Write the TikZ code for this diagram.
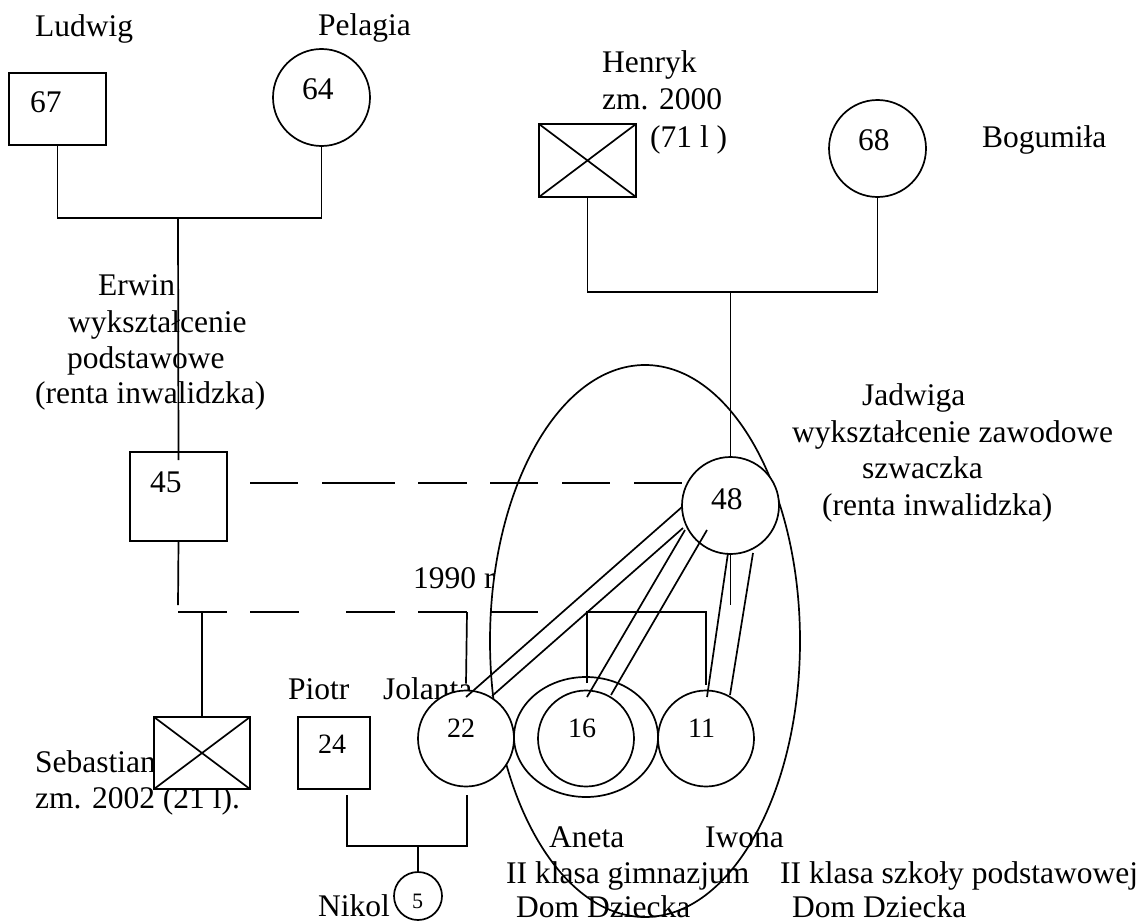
\documentclass[tikz,border=0pt]{standalone}
\usepackage{fontspec}
\setmainfont{Liberation Serif}
\usetikzlibrary{calc,shapes.geometric}
\begin{document}
\begin{tikzpicture}[x=1pt,y=-1pt,
  conn/.style={line width=1.7pt},
  txt/.style={anchor=base west, inner sep=0pt, font=\fontsize{31.5}{36}\selectfont},
  numtxt/.style={anchor=base west, inner sep=0pt, font=\fontsize{28}{32}\selectfont},
  smalltxt/.style={anchor=base west, inner sep=0pt, font=\fontsize{22}{26}\selectfont},
  malebox/.style={draw, line width=1.7pt, fill=white, rectangle, inner sep=0pt, outer sep=0pt},
  femcirc/.style={draw, line width=1.7pt, fill=white, circle, inner sep=0pt, outer sep=0pt},
  upperdash/.style={dash pattern=on 48pt off 24pt on 73pt off 23pt on 49pt off 23pt on 48pt off 24pt on 48pt off 24pt on 48pt off 24pt},
  lowerdash/.style={dash pattern=on 49pt off 23pt on 49pt off 47pt on 49pt off 23pt on 49pt off 23pt on 48pt off 20pt},
]
\useasboundingbox (0,0) rectangle (1142,923);

% household ellipse
\node[draw, line width=1.7pt, ellipse, inner sep=0pt, minimum width=310pt, minimum height=552pt] (household) at (645,641) {};

% name texts
\node[txt] (tLudwig) at (35,37) {Ludwig};
\node[txt] (tPelagia) at (318,36) {Pelagia};
\node[txt] (tHenryk1) at (602,73) {Henryk};
\node[txt] (tHenryk2) at (602,110) {zm. 2000};
\node[txt] (tHenryk3) at (650,147) {(71 l )};
\node[txt] (tBogumila) at (982,147) {Bogumiła};
\node[txt] (tErwin1) at (98,295) {Erwin};
\node[txt] (tErwin2) at (68,332) {wykształcenie};
\node[txt] (tErwin3) at (67,368) {podstawowe};
\node[txt] (tErwin4) at (35,403) {(renta inwalidzka)};
\node[txt] (tJadwiga1) at (862,405) {Jadwiga};
\node[txt] (tJadwiga2) at (792,442) {wykształcenie zawodowe};
\node[txt] (tJadwiga3) at (862,478) {szwaczka};
\node[txt] (tJadwiga4) at (822,515) {(renta inwalidzka)};
\node[txt] (t1990) at (413,588) {1990 r};
\node[txt] (tPiotr) at (288,699) {Piotr};
\node[txt] (tJolanta) at (383,699) {Jolanta};
\node[txt] (tSeb1) at (35,772) {Sebastian};
\node[txt] (tSeb2) at (35,808) {zm. 2002 (21 l).};
\node[txt] (tAneta1) at (549,847) {Aneta};
\node[txt] (tAneta2) at (506,883) {II klasa gimnazjum};
\node[txt] (tAneta3) at (516,917) {Dom Dziecka};
\node[txt] (tIwona1) at (705,847) {Iwona};
\node[txt] (tIwona2) at (780,883) {II klasa szkoły podstawowej};
\node[txt] (tIwona3) at (792,917) {Dom Dziecka};
\node[txt] (tNikol) at (318,916) {Nikol};

% persons
\node[malebox, minimum width=97pt, minimum height=72pt] (ludwig) at (57.5,109) {};
\node[femcirc, minimum size=97pt] (pelagia) at (321.5,97.5) {};
\node[malebox, minimum width=97pt, minimum height=73pt] (henryk) at (587.5,160.5) {};
\node[femcirc, minimum size=97pt] (bogumila) at (877.5,148.5) {};
\node[malebox, minimum width=97pt, minimum height=89pt] (erwin) at (178.5,496.5) {};
\node[femcirc, minimum size=97pt] (jadwiga) at (730.5,505.5) {};
\node[malebox, minimum width=96pt, minimum height=72pt] (sebastian) at (202,753) {};
\node[malebox, minimum width=72pt, minimum height=72pt] (piotr) at (334,753) {};
\node[femcirc, minimum size=96pt] (jolanta) at (466,738.5) {};
\node[draw, line width=1.7pt, fill=white, ellipse, inner sep=0pt, minimum width=144pt, minimum height=120pt] (anetaouter) at (586,737) {};
\node[femcirc, minimum size=96pt] (aneta) at (586,738.5) {};
\node[femcirc, minimum size=96pt] (iwona) at (706,738.5) {};
\node[femcirc, minimum size=48pt] (nikol) at (418,896) {};

% ages
\node[txt] (n67) at (30,113) {67};
\node[txt] (n64) at (302,100) {64};
\node[txt] (n68) at (858,150) {68};
\node[txt] (n45) at (150,492) {45};
\node[txt] (n48) at (711,509) {48};
\node[numtxt] (n24) at (318,753) {24};
\node[numtxt] (n22) at (447,737) {22};
\node[numtxt] (n16) at (568,737) {16};
\node[numtxt] (n11) at (688,737) {11};
\node[smalltxt] (n5) at (412,908) {5};

% crosses (deceased)
\draw[conn] (henryk.north west) -- (henryk.south east) (henryk.north east) -- (henryk.south west);
\draw[conn] (sebastian.north west) -- (sebastian.south east) (sebastian.north east) -- (sebastian.south west);

% Ludwig + Pelagia
\coordinate (lp) at (178,218);
\draw[conn] (ludwig.south) |- (lp) -| (pelagia.south);
\draw[conn] (lp) -- ([yshift=-8pt]erwin.north);

% Henryk + Bogumila
\coordinate (hb) at (730.5,292);
\draw[conn] (henryk.south) |- (hb) -| (bogumila.south);
\draw[conn] (hb) -- (jadwiga.north);

% Erwin - Jadwiga (dashed)
\coordinate (ej1) at (250,483);
\coordinate (ej2) at (682,483);
\draw[conn, upperdash] (ej1) -- (ej2);

% children line
\coordinate (eb) at (178,605);
\draw[conn] (erwin.south) -- (eb);
\coordinate (jb) at (730.5,605);
\draw[conn] (jadwiga.south) -- (jb);
\coordinate (m1) at (178,612);
\coordinate (m2) at (538,612);
\draw[conn, lowerdash] (m1) -- (m2);
\coordinate (sb) at (202,612);
\draw[conn] (sb) -- (sebastian.north);
\coordinate (jo) at (467,612);
\draw[conn] (jo) -- ([yshift=7pt]jolanta.north);
\coordinate (s1) at (587,612);
\coordinate (s2) at (706,612);
\draw[conn] ([yshift=-71pt]s1) |- (s2) -- ([yshift=-73pt]s2);

% Piotr + Jolanta
\coordinate (p1) at (347,795);
\coordinate (pj) at (418,846);
\coordinate (j1) at (467,795);
\draw[conn] (p1) |- (pj) -| (j1);
\draw[conn] (pj) -- (nikol.north);

% double lines (bonds) from Jadwiga
\draw[conn] ($(jadwiga.center)+(-48.5,1.5)$) -- ($(jolanta.center)+(0,-41.5)$);
\draw[conn] ($(jadwiga.center)+(-47.5,22.5)$) -- ($(jolanta.center)+(26,-42.5)$);
\draw[conn] ($(jadwiga.center)+(-45.5,24.5)$) -- ($(aneta.center)+(1,-41.5)$);
\draw[conn] ($(jadwiga.center)+(-23.5,24.5)$) -- ($(aneta.center)+(25,-43.5)$);
\draw[conn] ($(jadwiga.center)+(-2.5,47.5)$) -- ($(iwona.center)+(1,-41.5)$);
\draw[conn] ($(jadwiga.center)+(22.5,47.5)$) -- ($(iwona.center)+(24,-43.5)$);
\end{tikzpicture}
\end{document}
